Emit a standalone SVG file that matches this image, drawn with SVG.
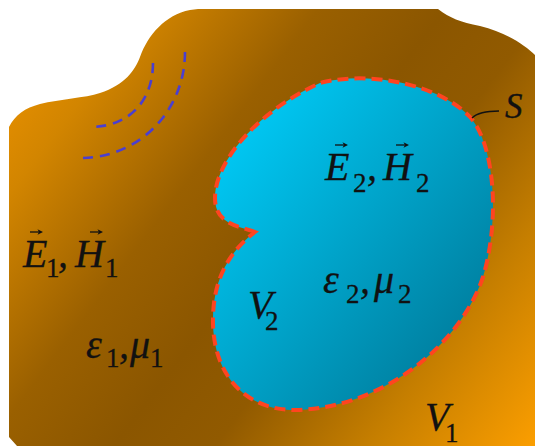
<svg xmlns="http://www.w3.org/2000/svg" xmlns:xlink="http://www.w3.org/1999/xlink" width="535" height="446" viewBox="0 0 535 446">
<style>
text{font-family:"Liberation Serif","Times New Roman",Times,serif;fill:#111;stroke:#111;stroke-width:0.3;}
.m{font-style:italic;}
.s{font-style:normal;}
.bound{stroke:#ff4420;stroke-width:4;stroke-dasharray:11 6;}
.arc{fill:none;stroke:#4a3fd0;stroke-width:2.6;stroke-dasharray:10 7;}
.lead{fill:none;stroke:#111;stroke-width:1.3;}
</style>
<defs>
<linearGradient id="gOut" gradientUnits="userSpaceOnUse" x1="0" y1="40" x2="535" y2="446">
<stop offset="0" stop-color="#f09400"/>
<stop offset="0.15" stop-color="#d28500"/>
<stop offset="0.35" stop-color="#9a6000"/>
<stop offset="0.5" stop-color="#8b5600"/>
<stop offset="0.62" stop-color="#915a00"/>
<stop offset="0.8" stop-color="#c57e00"/>
<stop offset="1" stop-color="#fb9e00"/>
</linearGradient>
<linearGradient id="gIn" gradientUnits="userSpaceOnUse" x1="220" y1="130" x2="480" y2="340">
<stop offset="0" stop-color="#00cbf7"/>
<stop offset="1" stop-color="#007c9c"/>
</linearGradient>
<g id="vec">
<path d="M0,0 H10" stroke="#111" stroke-width="1.3" fill="none"/>
<path d="M13,0 L7.5,-2.8 L9,0 L7.5,2.8 Z" fill="#111"/>
</g>
</defs>
<g id="V1">
<path d="M9,127 C15,115 25,108 40,104 C60,99 85,98 100,93 C125,85 135,70 140,57 C148,35 165,15 190,10 L198,9 L438,9 C450,18 460,22 480,26 C505,32 525,45 535,55 L535,446 L17,446 L9,437 Z" fill="url(#gOut)"/>
<text class="m" font-size="40"><tspan x="23" y="267">E</tspan><tspan class="s" font-size="27" x="46" y="277">1</tspan><tspan x="58" y="267">,</tspan><tspan x="75" y="267">H</tspan><tspan class="s" font-size="27" x="105" y="277">1</tspan></text>
<use xlink:href="#vec" x="30" y="232"/>
<use xlink:href="#vec" x="90" y="232"/>
<text class="m" font-size="40"><tspan x="86" y="358">ε</tspan><tspan class="s" font-size="27" x="106" y="367">1</tspan><tspan x="119" y="358">,</tspan><tspan x="130" y="358">μ</tspan><tspan class="s" font-size="27" x="150" y="367">1</tspan></text>
<text class="m" font-size="40"><tspan x="425" y="430">V</tspan><tspan class="s" font-size="27" x="445" y="442">1</tspan></text>
</g>
<g id="V2">
<path class="bound" d="M255,232 C240,226 215,225 215,198 C215,160 260,110 320,83 C370,70 440,85 470,117 C495,145 500,220 483,277 C462,340 390,405 300,410 C250,412 215,380 213,325 C212,285 225,255 255,232 Z" fill="url(#gIn)"/>
<text class="m" font-size="40"><tspan x="325" y="180">E</tspan><tspan class="s" font-size="27" x="353" y="192">2</tspan><tspan x="367" y="180">,</tspan><tspan x="383" y="180">H</tspan><tspan class="s" font-size="27" x="416" y="192">2</tspan></text>
<use xlink:href="#vec" x="335" y="145"/>
<use xlink:href="#vec" x="396" y="145"/>
<text class="m" font-size="40"><tspan x="323" y="293">ε</tspan><tspan class="s" font-size="27" x="346" y="303">2</tspan><tspan x="360" y="293">,</tspan><tspan x="374" y="293">μ</tspan><tspan class="s" font-size="27" x="398" y="303">2</tspan></text>
<text class="m" font-size="40"><tspan x="248" y="318">V</tspan><tspan class="s" font-size="27" x="265" y="330">2</tspan></text>
</g>
<g id="S">
<text class="m" font-size="35" x="505" y="118">S</text>
</g>
<g id="connectors">
<path class="lead" d="M472,118 C478,112 488,111 499,111"/>
<path class="arc" d="M153,63 C153,100 130,127 90,127"/>
<path class="arc" d="M185,52 C185,110 140,158 80,158"/>
</g>
</svg>
